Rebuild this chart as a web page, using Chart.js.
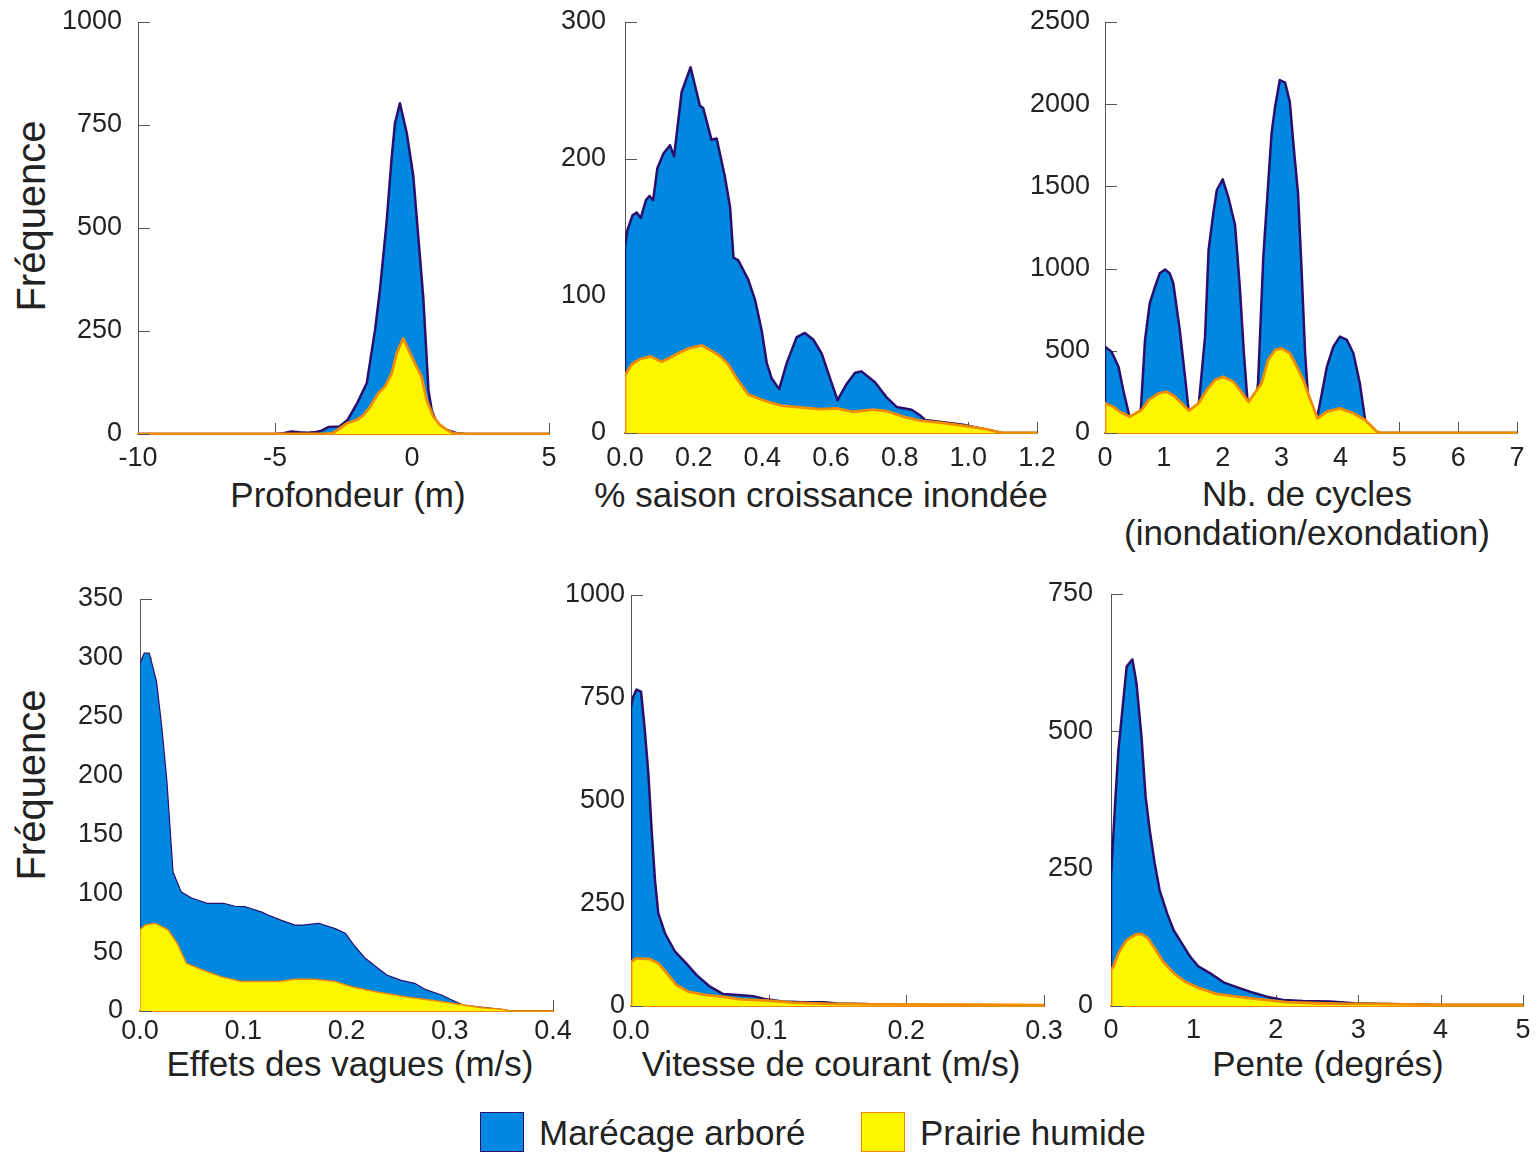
<!DOCTYPE html>
<html>
<head>
<meta charset="utf-8">
<script src="https://cdn.jsdelivr.net/npm/chart.js@4.4.1/dist/chart.umd.min.js"></script>
<style>
  html, body { margin: 0; padding: 0; background: #fff; overflow: hidden; }
  body { width: 1536px; height: 1154px; position: relative; font-family: "Liberation Sans", Arial, sans-serif; color: #222; }
  canvas { position: absolute; }
  .ylabel { position: absolute; font-size: 40px; white-space: nowrap; transform: translate(-50%, -50%) rotate(-90deg); }
  .xtitle { position: absolute; font-size: 35px; line-height: 39px; white-space: nowrap; text-align: center; transform: translate(-50%, -50%); }
  .legend-box { position: absolute; width: 42px; height: 38px; }
  .legend-text { position: absolute; font-size: 35px; white-space: nowrap; line-height: 40px; }
</style>
</head>
<body>
<div class="ylabel" style="left:31px; top:216px;">Fréquence</div>
<div class="ylabel" style="left:31px; top:785px;">Fréquence</div>

<div class="xtitle" style="left:348px; top:494px;">Profondeur (m)</div>
<div class="xtitle" style="left:821px; top:494px;">% saison croissance inondée</div>
<div class="xtitle" style="left:1307px; top:513px;">Nb. de cycles<br>(inondation/exondation)</div>
<div class="xtitle" style="left:350px; top:1063px;">Effets des vagues (m/s)</div>
<div class="xtitle" style="left:831px; top:1063px;">Vitesse de courant (m/s)</div>
<div class="xtitle" style="left:1328px; top:1063px;">Pente (degrés)</div>

<div class="legend-box" style="left:480px; top:1112px; background:#0088e0; border:1.5px solid #2a0f6e;"></div>
<div class="legend-text" style="left:539px; top:1113px;">Marécage arboré</div>
<div class="legend-box" style="left:861px; top:1112px; background:#fcf600; border:1.5px solid #f08c00;"></div>
<div class="legend-text" style="left:920px; top:1113px;">Prairie humide</div>

<script>
// ---- data ----
// Profondeur (m)
const profondeurMarecageX = [-10, -5, -4.7, -4.4, -4.1, -3.8, -3.5, -3.3, -3.05, -2.65, -2.35, -2.0, -1.65, -1.35, -1.17, -0.93, -0.74, -0.62, -0.44, -0.19, 0.05, 0.17, 0.41, 0.6, 0.72, 0.9, 1.27, 1.63, 2.0, 5];
const profondeurMarecageY = [0, 0, 2, 6, 4, 3, 5, 8, 17, 18, 34, 75, 124, 252, 350, 512, 673, 755, 803, 730, 625, 527, 333, 107, 58, 26, 10, 2, 0, 0];
const profondeurPrairieX = [-10, -3.2, -2.87, -2.63, -2.38, -2.02, -1.77, -1.53, -1.23, -0.99, -0.74, -0.56, -0.32, -0.07, 0.17, 0.35, 0.53, 0.78, 1.02, 1.27, 1.5, 1.7, 5];
const profondeurPrairieY = [0, 0, 3, 14, 26, 34, 46, 66, 99, 115, 147, 196, 232, 196, 163, 139, 83, 42, 22, 10, 2, 0, 0];

// % saison croissance inondée
const saisonMarecageX = [0, 0, 0.007, 0.022, 0.034, 0.046, 0.061, 0.071, 0.082, 0.094, 0.112, 0.131, 0.143, 0.165, 0.191, 0.218, 0.228, 0.252, 0.267, 0.291, 0.306, 0.316, 0.33, 0.359, 0.379, 0.398, 0.413, 0.427, 0.449, 0.471, 0.5, 0.524, 0.549, 0.573, 0.597, 0.619, 0.646, 0.67, 0.689, 0.728, 0.762, 0.791, 0.835, 0.859, 0.874, 0.985, 1.1, 1.2];
const saisonMarecageY = [0, 136, 148, 159, 161, 157, 170, 173, 170, 193, 204, 210, 202, 249, 267, 239, 237, 214, 215, 187, 165, 128, 126, 112, 97, 75, 51, 40, 32, 51, 70, 73, 68, 58, 40, 24, 36, 44, 45, 37, 26, 19, 17, 13, 9.5, 6, 0, 0];
const saisonPrairieX = [0, 0, 0.019, 0.044, 0.073, 0.107, 0.131, 0.16, 0.189, 0.223, 0.252, 0.277, 0.301, 0.325, 0.359, 0.413, 0.456, 0.519, 0.568, 0.617, 0.665, 0.723, 0.762, 0.811, 0.859, 0.918, 0.995, 1.054, 1.1, 1.2];
const saisonPrairieY = [0, 42, 50, 54, 56, 52, 55, 59, 62, 64, 60, 56, 50, 40, 28, 23, 20, 18.5, 17.5, 18, 15.5, 17, 16, 12, 9, 7.5, 5, 2.7, 0, 0];

// Nb. de cycles
const cyclesMarecageX = [0, 0, 0.11, 0.23, 0.31, 0.41, 0.5, 0.61, 0.68, 0.76, 0.85, 0.93, 1.02, 1.1, 1.16, 1.27, 1.36, 1.42, 1.5, 1.6, 1.7, 1.76, 1.84, 1.9, 2.0, 2.1, 2.21, 2.29, 2.36, 2.42, 2.5, 2.6, 2.69, 2.83, 2.89, 2.97, 3.06, 3.14, 3.2, 3.28, 3.34, 3.4, 3.45, 3.53, 3.62, 3.77, 3.88, 3.99, 4.11, 4.22, 4.33, 4.42, 4.5, 7];
const cyclesMarecageY = [0, 525, 495, 403, 262, 109, 0, 150, 566, 789, 890, 971, 995, 971, 911, 627, 342, 140, 0, 200, 586, 1113, 1336, 1478, 1543, 1428, 1265, 890, 485, 200, 0, 302, 1073, 1823, 1985, 2147, 2131, 2015, 1762, 1458, 991, 485, 221, 0, 120, 403, 525, 586, 566, 485, 302, 79, 0, 0];
const cyclesPrairieX = [0, 0, 0.14, 0.25, 0.42, 0.62, 0.74, 0.91, 1.05, 1.19, 1.33, 1.43, 1.59, 1.73, 1.87, 2.01, 2.18, 2.29, 2.44, 2.58, 2.66, 2.77, 2.89, 3.0, 3.14, 3.26, 3.37, 3.48, 3.61, 3.77, 3.99, 4.22, 4.42, 4.62, 4.7, 7];
const cyclesPrairieY = [0, 181, 160, 130, 99, 140, 200, 241, 251, 221, 170, 136, 181, 262, 322, 342, 312, 262, 190, 262, 302, 444, 505, 515, 485, 403, 322, 211, 89, 130, 150, 120, 79, 8, 0, 0];

// Effets des vagues (m/s)
const vaguesMarecageX = [0, 0, 0.004, 0.009, 0.016, 0.021, 0.026, 0.029, 0.032, 0.04, 0.05, 0.065, 0.081, 0.092, 0.102, 0.118, 0.124, 0.137, 0.15, 0.158, 0.173, 0.189, 0.199, 0.208, 0.218, 0.228, 0.239, 0.253, 0.266, 0.276, 0.292, 0.302, 0.313, 0.334, 0.35, 0.36, 0.4];
const vaguesMarecageY = [0, 295, 304, 304, 280, 242, 196, 157, 118, 101, 96, 91.5, 91.5, 89, 88.6, 84, 81.6, 77, 73, 73, 74.5, 70, 66, 55, 45, 38, 30.6, 26, 23.5, 18.4, 13.6, 9.3, 5, 2.8, 1.4, 0, 0];
const vaguesPrairieX = [0, 0, 0.005, 0.015, 0.027, 0.036, 0.045, 0.06, 0.079, 0.098, 0.134, 0.15, 0.169, 0.189, 0.205, 0.228, 0.26, 0.286, 0.312, 0.331, 0.35, 0.36, 0.4];
const vaguesPrairieY = [0, 69, 73, 74.5, 69, 57.5, 40.5, 35, 29, 25, 25, 27, 27, 25, 20.6, 16.4, 11.6, 8.8, 5.4, 2.8, 1.4, 0, 0];

// Vitesse de courant (m/s)
const courantMarecageX = [0, 0, 0.0017, 0.004, 0.0073, 0.01, 0.0126, 0.015, 0.0174, 0.0198, 0.0247, 0.032, 0.039, 0.0477, 0.0574, 0.067, 0.078, 0.089, 0.097, 0.11, 0.125, 0.14, 0.15, 0.17, 0.18, 0.2, 0.3];
const courantMarecageY = [0, 728, 753, 770, 765, 672, 566, 428, 307, 226, 177, 132, 108, 75, 47, 29, 27, 24, 17, 11, 9, 9, 6, 5, 3, 2, 1];
const courantPrairieX = [0, 0, 0.004, 0.0138, 0.0198, 0.026, 0.033, 0.0416, 0.0538, 0.066, 0.08, 0.0997, 0.117, 0.146, 0.18, 0.25, 0.3];
const courantPrairieY = [0, 108, 116, 114, 104, 80, 51, 35, 27, 23, 16, 13, 8, 5, 4, 3, 2];

// Pente (degrés)
const penteMarecageX = [0, 0, 0.05, 0.09, 0.19, 0.26, 0.31, 0.37, 0.42, 0.47, 0.53, 0.59, 0.68, 0.76, 0.86, 0.96, 1.06, 1.2, 1.38, 1.57, 1.73, 1.89, 2.09, 2.33, 2.66, 2.95, 3.2, 4, 5];
const penteMarecageY = [0, 235, 369, 466, 618, 631, 587, 490, 381, 320, 260, 211, 169, 138, 114, 90, 72, 60, 42, 32, 24, 17, 11, 9, 8, 5, 4, 2, 2];
const pentePrairieX = [0, 0, 0.03, 0.09, 0.19, 0.31, 0.37, 0.45, 0.53, 0.63, 0.76, 0.9, 1.08, 1.28, 1.53, 1.81, 2.13, 2.5, 2.85, 3.2, 4, 5];
const pentePrairieY = [0, 66, 72, 96, 120, 131, 131, 123, 105, 81, 60, 44, 32, 22, 17, 12, 7, 5, 4, 4, 2, 2];

const seriesNames = ["Marécage arboré", "Prairie humide"];

// ---- styles ----
const FONT = "'Liberation Sans', Arial, sans-serif";
const TEXT = "#222222";
const AXIS = "#555555";
const BLUE = "#0088e0", NAVY = "#2a0f6e";
const YELLOW = "#fcf600", ORANGE = "#f08c00";
const TICK_FONT = 27;

const pts = (xs, ys) => xs.map((x, i) => ({ x: x, y: ys[i] }));

// tick marks drawn inside the plot (as in the original figure)
const innerTicks = {
  id: "innerTicks",
  beforeDatasetsDraw(chart) {
    const { ctx, chartArea, scales } = chart;
    ctx.save();
    ctx.strokeStyle = AXIS;
    ctx.lineWidth = 1;
    ctx.beginPath();
    scales.x.ticks.forEach((t, i) => {
      const px = Math.round(scales.x.getPixelForTick(i)) + 0.5;
      ctx.moveTo(px, chartArea.bottom);
      ctx.lineTo(px, chartArea.bottom - 11);
    });
    scales.y.ticks.forEach((t, i) => {
      const py = Math.round(scales.y.getPixelForTick(i)) + 0.5;
      ctx.moveTo(chartArea.left, py);
      ctx.lineTo(chartArea.left + 12, py);
    });
    ctx.stroke();
    ctx.restore();
  }
};

function panel(p) {
  const tp = 45;   // room above the plot (half a label + tick padding)
  const rp = 30;
  const xh = 60;   // x tick labels only; axis titles are html
  const labelPad = p.labelY - p.b - (TICK_FONT * 1.2) / 2 + 2;

  const cv = document.createElement("canvas");
  cv.width = p.yw + (p.r - p.l) + rp;
  cv.height = tp + (p.b - p.t) + xh;
  cv.style.left = (p.l - p.yw) + "px";
  cv.style.top = (p.t - tp) + "px";
  document.body.appendChild(cv);

  const lw = p.lineWidth || 2.5;
  new Chart(cv, {
    type: "line",
    data: {
      datasets: [
        {
          label: seriesNames[0],
          data: pts(p.mx, p.my),
          backgroundColor: BLUE,
          borderColor: NAVY,
          borderWidth: lw,
          fill: "origin",
          order: 1
        },
        {
          label: seriesNames[1],
          data: pts(p.px, p.py),
          backgroundColor: YELLOW,
          borderColor: ORANGE,
          borderWidth: lw + 0.3,
          fill: "origin",
          order: 0
        }
      ]
    },
    options: {
      responsive: false,
      animation: false,
      events: [],
      layout: { padding: { top: tp, right: rp, left: 0, bottom: 0 } },
      elements: { point: { radius: 0 }, line: { tension: 0, borderJoinStyle: "round" } },
      plugins: { legend: { display: false }, tooltip: { enabled: false } },
      scales: {
        x: {
          type: "linear",
          min: p.xmin,
          max: p.xmax,
          z: 1,
          grid: { display: false, drawTicks: false },
          border: { display: true, color: ORANGE, width: 2 },
          ticks: {
            stepSize: p.xstep,
            autoSkip: false,
            maxRotation: 0,
            padding: labelPad,
            color: TEXT,
            font: { family: FONT, size: TICK_FONT },
            callback: (v) => (p.xdec ? Number(v).toFixed(p.xdec) : String(Math.round(v)))
          },
          afterFit: (s) => { s.height = xh; }
        },
        y: {
          min: 0,
          max: p.ymax,
          grid: { display: false, drawTicks: false },
          border: { display: true, color: AXIS, width: 1 },
          ticks: {
            stepSize: p.ystep,
            padding: p.ypad,
            color: TEXT,
            font: { family: FONT, size: TICK_FONT },
            callback: (v) => String(v)
          },
          afterFit: (s) => { s.width = p.yw; }
        }
      }
    },
    plugins: [innerTicks]
  });
}

panel({ l: 138, t: 22, r: 549, b: 434, yw: 138, ypad: 16, labelY: 457,
  xmin: -10, xmax: 5, xstep: 5, ymax: 1000, ystep: 250,
  mx: profondeurMarecageX, my: profondeurMarecageY, px: profondeurPrairieX, py: profondeurPrairieY });

panel({ l: 625, t: 22, r: 1037, b: 433, yw: 85, ypad: 19, labelY: 457,
  xmin: 0, xmax: 1.2, xstep: 0.2, xdec: 1, ymax: 300, ystep: 100,
  mx: saisonMarecageX, my: saisonMarecageY, px: saisonPrairieX, py: saisonPrairieY });

panel({ l: 1105, t: 22, r: 1517, b: 433, yw: 95, ypad: 15, labelY: 457,
  xmin: 0, xmax: 7, xstep: 1, ymax: 2500, ystep: 500,
  mx: cyclesMarecageX, my: cyclesMarecageY, px: cyclesPrairieX, py: cyclesPrairieY });

panel({ l: 140, t: 599, r: 553, b: 1011, yw: 140, ypad: 17, labelY: 1030,
  xmin: 0, xmax: 0.4, xstep: 0.1, xdec: 1, ymax: 350, ystep: 50, lineWidth: 1.2,
  mx: vaguesMarecageX, my: vaguesMarecageY, px: vaguesPrairieX, py: vaguesPrairieY });

panel({ l: 631, t: 595, r: 1044, b: 1006, yw: 85, ypad: 6, labelY: 1030,
  xmin: 0, xmax: 0.3, xstep: 0.1, xdec: 1, ymax: 1000, ystep: 250,
  mx: courantMarecageX, my: courantMarecageY, px: courantPrairieX, py: courantPrairieY });

panel({ l: 1111, t: 594, r: 1523, b: 1006, yw: 95, ypad: 18, labelY: 1029,
  xmin: 0, xmax: 5, xstep: 1, ymax: 750, ystep: 250,
  mx: penteMarecageX, my: penteMarecageY, px: pentePrairieX, py: pentePrairieY });
</script>
</body>
</html>
